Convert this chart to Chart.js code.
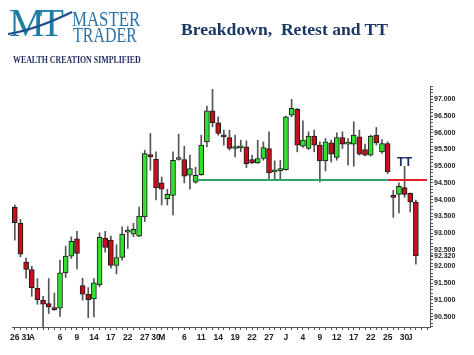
<!DOCTYPE html>
<html><head><meta charset="utf-8">
<script src="https://cdn.jsdelivr.net/npm/chart.js@4/dist/chart.umd.min.js"></script>
<style>
html,body{margin:0;padding:0;background:#fff;}
#wrap{position:relative;width:474px;height:355px;overflow:hidden;background:#fff;}
#c{position:absolute;left:0;top:0;}
.t{position:absolute;white-space:pre;margin:0;padding:0;}
#title{left:181px;top:20.5px;font:bold 17.6px "Liberation Serif",serif;line-height:17.6px;color:#1b3764;}
#mt{left:9px;top:3px;font:40px "Liberation Serif",serif;line-height:40px;color:#1e7ea6;letter-spacing:-5px;}
#master{left:72px;top:9px;font:21px "Liberation Serif",serif;line-height:21px;color:#2a72a8;transform:scaleX(0.8);transform-origin:0 0;}
#trader{left:73px;top:25px;font:21px "Liberation Serif",serif;line-height:21px;color:#2a72a8;transform:scaleX(0.76);transform-origin:0 0;}
#tag{left:13px;top:55px;font:bold 10px "Liberation Serif",serif;line-height:10px;color:#1d2d5e;transform:scaleX(0.79);transform-origin:0 0;}
#sw{position:absolute;left:0;top:0;}
</style></head><body>
<div id="wrap">
<canvas id="c" width="474" height="355"></canvas>
<div class="t" id="mt">MT</div>
<svg id="sw" width="80" height="45"><path d="M8 34 Q 35 30 72 12" stroke="#1c4f8a" stroke-width="2.2" fill="none"/></svg>
<div class="t" id="master">MASTER</div>
<div class="t" id="trader">TRADER</div>
<div class="t" id="tag">WEALTH CREATION SIMPLIFIED</div>
<div class="t" id="title">Breakdown,  Retest and TT</div>
</div>
<script>
// ---- data ----
const openP  = [93.78,93.29,92.13,91.91,91.35,90.99,90.89,90.77,90.75,91.81,92.31,92.83,91.43,91.17,91.03,91.45,92.85,92.79,92.03,92.27,93.03,92.97,92.91,93.48,95.35,95.21,94.50,94.02,94.13,95.20,95.20,94.73,94.52,94.75,95.73,96.66,96.30,95.93,95.86,95.53,95.55,95.58,95.20,95.10,95.23,95.53,94.83,94.86,94.90,96.53,96.70,95.60,95.53,95.90,95.63,95.16,95.70,95.26,95.86,95.66,95.66,95.88,95.50,95.33,95.93,95.43,95.68,94.08,94.16,94.36,94.19,93.93];
const highP  = [93.84,93.41,92.25,92.01,91.64,91.11,91.64,91.21,92.19,92.61,92.89,93.05,91.65,91.37,91.64,93.01,93.05,92.91,92.65,93.19,93.19,93.29,93.78,95.48,95.98,95.43,94.68,94.31,95.43,95.96,95.60,95.33,94.97,95.93,96.80,97.30,96.48,96.08,96.08,95.93,95.78,95.76,95.33,95.78,95.73,96.03,95.16,95.18,96.50,97.00,96.73,96.36,96.03,96.08,95.73,95.83,95.78,96.00,96.03,95.83,96.33,96.08,95.66,95.93,96.16,95.80,95.73,94.28,94.50,95.00,94.20,93.99];
const lowP   = [92.79,92.29,91.65,91.11,90.87,90.19,90.59,90.69,90.51,91.67,92.24,91.93,90.99,90.47,90.49,91.39,92.43,91.95,91.78,92.19,92.54,92.89,92.89,93.34,94.88,93.99,93.84,93.84,93.54,95.18,94.50,94.31,94.49,94.73,95.58,96.18,95.93,95.63,95.48,95.28,95.43,94.96,95.08,95.08,95.18,94.60,94.60,94.60,94.88,96.48,95.43,95.56,95.50,95.43,94.53,94.86,95.13,95.18,95.53,95.03,95.00,95.33,95.31,95.30,95.63,95.38,94.78,93.47,93.60,94.07,93.63,92.07];
const closeP = [93.31,92.37,91.91,91.37,91.01,90.87,90.79,90.71,91.81,92.31,92.75,92.39,91.17,91.01,91.51,92.87,92.57,92.03,92.27,92.97,93.05,93.11,93.51,95.38,95.28,94.35,94.31,94.16,95.18,95.21,94.70,94.93,94.73,95.63,96.66,96.30,95.98,95.88,95.53,95.54,95.56,95.08,95.10,95.23,95.56,94.80,94.86,94.93,96.48,96.73,95.63,95.78,95.90,95.63,95.16,95.73,95.36,95.86,95.66,95.67,95.93,95.36,95.33,95.90,95.70,95.68,94.83,94.07,94.40,94.16,93.93,92.32];
const totalDays = 74;                 // trading-day slots on the axis
const tickPositions = [0,2,3,8,11,14,17,20,23,25,26,30,33,36,39,42,45,48,51,54,57,60,63,66,69,70];
const tickTexts     = ['26','31','A','6','9','14','17','22','27','30','M','6','11','14','19','22','27','J','4','9','12','17','22','25','30','J'];
const yTickValues = [90.5,91.0,91.5,92.0,92.32,92.5,93.0,93.5,94.0,94.5,95.0,95.5,96.0,96.5,97.0];
const supportLevel = 94.59;
const supportFrom = 32, supportTo = 66;      // green: support
const breakFrom = 66, breakTo = 73;          // red: broken support
const ttIndex = 69, ttLevel = 95.11;

// ---- build ----
const categories = Array.from({length: totalDays}, (_, i) => i);
const labelAt = {};
tickPositions.forEach((p, k) => { labelAt[p] = tickTexts[k]; });
const wicks = lowP.map((l, i) => [l, highP[i]]);
const bodies = openP.map((o, i) => [o, closeP[i]]);
const bodyColors = openP.map((o, i) => closeP[i] > o ? '#2fe02f' : '#c3101c');
const greenLine = categories.map(i => (i >= supportFrom && i <= supportTo) ? supportLevel : null);
const redLine = categories.map(i => (i >= breakFrom && i <= breakTo) ? supportLevel : null);
const minorY = [];
for (let k = 902; k <= 974; k++) minorY.push(k / 10);

const ttPlugin = {
  id: 'ttLabel',
  afterDatasetsDraw(chart) {
    const {ctx, scales} = chart;
    const x = scales.x.getPixelForValue(ttIndex);
    const y = scales.y.getPixelForValue(ttLevel);
    ctx.save();
    ctx.font = 'bold 12.5px "Liberation Sans", Arial, sans-serif';
    ctx.fillStyle = '#1b2f6e';
    ctx.textAlign = 'center';
    ctx.textBaseline = 'middle';
    ctx.fillText('TT', x, y);
    ctx.restore();
  }
};

new Chart(document.getElementById('c'), {
  type: 'bar',
  data: {
    labels: categories,
    datasets: [
      { type: 'line', data: greenLine, borderColor: '#2ea36c', borderWidth: 2, pointRadius: 0, spanGaps: false, order: 0 },
      { type: 'line', data: redLine, borderColor: '#e0202a', borderWidth: 2, pointRadius: 0, spanGaps: false, order: 0 },
      { data: bodies, backgroundColor: bodyColors, borderColor: '#1a1a1a', borderWidth: 1, borderSkipped: false, barThickness: 5, minBarLength: 2, grouped: false, order: 1 },
      { data: wicks, backgroundColor: '#555', borderWidth: 0, barThickness: 1, grouped: false, order: 2 }
    ]
  },
  options: {
    responsive: false,
    animation: false,
    events: [],
    layout: { padding: { left: 12, top: 86, right: 0, bottom: 0 } },
    plugins: { legend: { display: false }, tooltip: { enabled: false }, title: { display: false } },
    scales: {
      x: {
        type: 'category',
        offset: true,
        grid: { display: true, drawOnChartArea: false, drawTicks: true, tickLength: 3, color: '#555', offset: false },
        border: { display: true, color: '#555', width: 1 },
        ticks: {
          autoSkip: false, maxRotation: 0, minRotation: 0, padding: 3,
          color: '#222', font: { family: '"Liberation Sans", Arial, sans-serif', size: 8.5, weight: 'bold' },
          callback: (v, i) => labelAt[i] || ''
        },
        afterFit: s => { s.height = 28; }
      },
      y: {
        position: 'right',
        min: 90.19, max: 97.40,
        grid: { display: true, drawOnChartArea: false, drawTicks: true, tickLength: 3, color: '#555' },
        border: { display: true, color: '#555', width: 1 },
        afterBuildTicks: s => {
          const vals = minorY.filter(v => !yTickValues.some(t => Math.abs(t - v) < 0.001)).concat(yTickValues);
          s.ticks = vals.sort((a, b) => a - b).map(v => ({ value: v }));
        },
        ticks: {
          autoSkip: false, padding: 1,
          color: '#222', font: { family: '"Liberation Sans", Arial, sans-serif', size: 7, weight: 'bold' },
          callback: v => yTickValues.some(t => Math.abs(t - v) < 0.001) ? v.toFixed(3) : ''
        },
        afterFit: s => { s.width = 44; }
      }
    }
  },
  plugins: [ttPlugin]
});
</script>
</body></html>
